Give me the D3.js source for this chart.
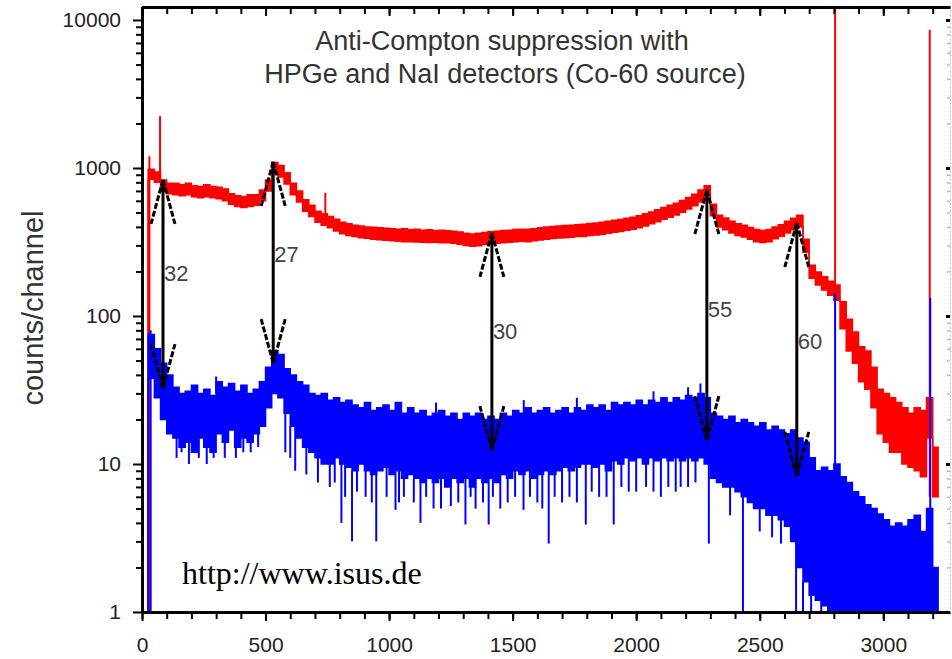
<!DOCTYPE html>
<html><head><meta charset="utf-8">
<script src="https://cdn.jsdelivr.net/npm/d3@7"></script>
<style>
html,body{margin:0;padding:0;background:#fff;}
svg{display:block;}
</style></head><body>
<svg id="chart" width="952" height="659"></svg>
<script>
// ---------- data ----------
const binWidth = 25; // channels per bin; bin i starts at channel i*25
const redHi = [1,980,940,830,790,790,770,790,760,750,770,750,740,720,670,650,640,660,660,710,830,1090,1040,930,790,700,610,560,510,490,470,450,430,420,410,405,400,398,395,392,388,385,388,382,385,380,382,378,380,376,374,370,362,358,362,366,372,374,378,380,384,385,386,388,395,400,402,405,408,410,414,416,422,425,430,436,444,448,458,465,476,490,505,522,540,560,578,602,632,665,710,760,570,480,460,436,420,410,396,384,378,384,400,414,436,458,480,330,220,198,184,172,162,125,95,78,62,58,45,32,30,28,26,24,22,24,23,28,13];
const redLo = [1,840,800,700,670,660,650,660,640,630,640,630,620,600,570,550,540,550,560,600,700,920,870,780,660,590,510,470,430,410,395,375,360,350,345,338,335,330,328,325,322,320,318,318,316,315,314,315,312,312,310,305,300,296,298,304,308,310,312,315,318,320,318,322,326,330,334,336,338,340,344,345,350,352,356,362,368,372,380,386,395,406,420,434,450,465,482,502,528,556,590,640,475,400,382,364,350,342,330,318,314,318,332,346,364,382,400,270,180,162,150,138,128,82,58,48,36,32,24,16,14,12,12,10,9.5,9,8.2,15,6];
const blueHi = [1,75,60,48,40,33,30,31,34,30,32,29,36,33,35,31,34,30,32,36,45,58,55,44,40,36,34,30,29,30,27,28,26,27,25,24,26,23,24,25,23,26,22,24,22,23,21,22,23,21,22,20,22,21,22,20,21,20,22,21,23,22,24,22,23,24,22,23,24,22,24,23,25,24,25,23,26,25,26,25,27,25,27,26,28,26,28,27,29,28,30,28,22,21,20,21,19,20,19,18,19,17,18,17,16,17,15,14,11,9,9.5,9,10,8.2,7.5,6.5,6,5.3,5,4.6,4.2,3.8,4,3.8,4.2,4.5,3.5,5,2];
const blueLo = [1,38,28,20,16,15,13,14,12,15,13,12,16,14,17,13,15,14,16,18,24,30,28,22,18,15,13,12,11,10,10,11,10,9.5,9,10,9,8.5,9,9.5,8.5,9,8,8.5,8,7.5,8,7.5,8,7,8,7.5,8,7,8,7.5,8,7.5,8.5,8,9,8.5,9,8,8.5,9,8.5,9,9.5,9,9.5,10,10,9.5,10,9,10.5,10,11,10.5,11,10,11,10.5,11,10.5,11,10.5,11,10.5,11,10,8,7.5,7,7,6.5,6,5.5,5,5,4.5,4.5,4.2,3.8,3,2,1.6,1.3,1.2,1.1,1,1,1,1,1,1,1,1,1,1,1,1,1,1,1,1,1,1];
// narrow single-channel lines: [channel, from, to]
const redSpikes = [[30,1,1200],[73,800,2240],[742,440,680],[2805,128,20000],[3188,6,8600]];
const blueSpikes = [[35,1,80],[300,30,39],[1190,20,26],[1545,20,27],[1760,20,28],[2070,22,31],[2210,25,33],[2260,25,35],[2805,1,143],[3190,1,133]];
// downward blue noise dips: [channel, value]
const blueDips = [[140,11],[160,12],[190,10],[230,11],[262,10],[290,11],[335,11],[380,11],[410,12],[440,12],[470,13],[580,12],[600,11],[620,9],[665,8.5],[712,7.5],[760,7],[780,7.5],[807,4],[822,6],[850,3],[870,6.5],[905,6],[930,5.5],[948,3],[990,6],[1026,4.9],[1040,5.5],[1060,6],[1100,5.5],[1127,4],[1150,6],[1180,5],[1210,5],[1250,5.2],[1280,5.5],[1309,3.9],[1330,6],[1350,5],[1380,5.5],[1403,3.9],[1420,6],[1450,5],[1480,5.5],[1510,6],[1544,4.9],[1570,6],[1600,5.5],[1620,5],[1646,2.9],[1670,6],[1700,5.5],[1730,6],[1760,5.5],[1796,3.9],[1820,6.5],[1850,6],[1880,6],[1909,3.9],[1940,7],[1970,6.5],[2000,6.5],[2040,7],[2070,6.5],[2100,6],[2130,7],[2160,6.5],[2180,7],[2210,7],[2240,7.5],[2294,2.9],[2380,4.5],[2432,1],[2500,3.5],[2550,3.2],[2586,2.9],[2647,1],[2675,1],[2708,1],[2749,1],[2789,1]];
// double arrows: channel, top value, bottom value, label, label value
const arrowCh = [85, 531, 1416, 2286, 2650];
const arrowTop = [830, 1100, 364, 710, 425];
const arrowBottom = [32.6, 48, 12.4, 14.5, 8.3];
const arrowLabels = ["32", "27", "30", "55", "60"];
const arrowLabelAt = [195, 262, 79, 111, 68];
const xMajorTicks = [0, 500, 1000, 1500, 2000, 2500, 3000];
const yMajorTicks = [1, 10, 100, 1000, 10000];
const titleLines = ["Anti-Compton suppression with", "HPGe and NaI detectors (Co-60 source)"];
const yTitle = "counts/channel";
const urlText = "http://www.isus.de";
const xMax = 3270, yTop = 12240;

// ---------- layout ----------
const SANS = "'Liberation Sans',Arial,sans-serif";
const svg = d3.select("#chart");
const L = 142, R = 950, T = 7, B = 612;
const x = d3.scaleLinear().domain([0, xMax]).range([L, R]);
const y = d3.scaleLog().domain([1, yTop]).range([B, T]);

svg.append("defs").append("clipPath").attr("id","clip")
  .append("rect").attr("x",L).attr("y",T).attr("width",R-L).attr("height",B-T);
const plot = svg.append("g").attr("clip-path","url(#clip)");

function binData(hi, lo){
  const d = hi.map((h,i)=>({ch:i*binWidth, hi:h, lo:lo[i]}));
  const last = d[d.length-1];
  d.push({ch:last.ch+binWidth, hi:last.hi, lo:last.lo});
  return d;
}
const red = binData(redHi, redLo), blue = binData(blueHi, blueLo);
const area = d3.area().curve(d3.curveStepAfter).x(d=>x(d.ch)).y0(d=>y(d.lo)).y1(d=>y(d.hi));
const hiLine = d3.line().curve(d3.curveStepAfter).x(d=>x(d.ch)).y(d=>y(d.hi));
const loLine = d3.line().curve(d3.curveStepAfter).x(d=>x(d.ch)).y(d=>y(d.lo));

function drawSeries(data, color, spikes){
  plot.append("path").datum(data).attr("d",area).attr("fill",color).attr("stroke","none");
  plot.append("path").datum(data).attr("d",hiLine).attr("fill","none").attr("stroke",color).attr("stroke-width",1.5);
  plot.append("path").datum(data).attr("d",loLine).attr("fill","none").attr("stroke",color).attr("stroke-width",1.5);
  plot.selectAll(null).data(spikes).enter().append("line")
    .attr("x1",d=>x(d[0])).attr("x2",d=>x(d[0]))
    .attr("y1",d=>y(d[1])).attr("y2",d=>y(d[2]))
    .attr("stroke",color).attr("stroke-width",2);
}
drawSeries(red, "#ff0000", redSpikes);
drawSeries(blue, "#0000ff", blueSpikes);
plot.selectAll(null).data(blueDips).enter().append("line")
  .attr("x1",d=>x(d[0])).attr("x2",d=>x(d[0]))
  .attr("y1",d=>y(blueLo[Math.floor(d[0]/binWidth)]))
  .attr("y2",d=>y(d[1]))
  .attr("stroke","#0000ff").attr("stroke-width",2);

// ---------- arrows ----------
const ag = svg.append("g");
arrowCh.forEach((c,i)=>{
  const xp = x(c), yt = y(arrowTop[i]), yb = y(arrowBottom[i]);
  ag.append("line").attr("x1",xp).attr("x2",xp).attr("y1",yt).attr("y2",yb)
    .attr("stroke","#000").attr("stroke-width",3);
  [[yt,1],[yb,-1]].forEach(([ty,dir])=>{
    [-12,12].forEach(dx=>{
      ag.append("line").attr("x1",xp).attr("y1",ty).attr("x2",xp+dx).attr("y2",ty+dir*44)
        .attr("stroke","#000").attr("stroke-width",3).attr("stroke-dasharray","6,2");
    });
  });
  ag.append("text").attr("x",xp+1).attr("y",y(arrowLabelAt[i])).attr("dy","0.36em")
    .style("font-family",SANS).attr("font-size",22).attr("fill","#444").text(arrowLabels[i]);
});

// ---------- axes ----------
const xMinor = d3.range(0, xMax, 100);
const yMinor = [];
for (let e=0;e<4;e++) for (let k=2;k<10;k++) yMinor.push(k*Math.pow(10,e));

function styleAxis(g, w){
  g.select(".domain").attr("stroke","#000").attr("stroke-width",w);
  g.selectAll(".tick line").attr("stroke","#000").attr("stroke-width",2);
  g.selectAll("text").attr("font-size",21).attr("fill","#222").style("font-family",SANS);
}
// bottom
svg.append("g").attr("transform",`translate(0,${B})`)
  .call(d3.axisBottom(x).tickValues(xMinor).tickSizeInner(7).tickSizeOuter(0).tickFormat(""))
  .call(g=>styleAxis(g,3));
svg.append("g").attr("transform",`translate(0,${B})`)
  .call(d3.axisBottom(x).tickValues(xMajorTicks).tickSizeInner(9).tickSizeOuter(0).tickPadding(16).tickFormat(d3.format("d")))
  .call(g=>styleAxis(g,3));
// top
svg.append("g").attr("transform",`translate(0,${T})`)
  .call(d3.axisTop(x).tickValues(xMinor).tickSizeInner(-7).tickSizeOuter(0).tickFormat(""))
  .call(g=>styleAxis(g,3));
svg.append("g").attr("transform",`translate(0,${T})`)
  .call(d3.axisTop(x).tickValues(xMajorTicks).tickSizeInner(-9).tickSizeOuter(0).tickFormat(""))
  .call(g=>styleAxis(g,3));
// left
svg.append("g").attr("transform",`translate(${L},0)`)
  .call(d3.axisLeft(y).tickValues(yMinor).tickSizeInner(6).tickSizeOuter(0).tickFormat(""))
  .call(g=>styleAxis(g,3));
svg.append("g").attr("transform",`translate(${L},0)`)
  .call(d3.axisLeft(y).tickValues(yMajorTicks).tickSizeInner(9).tickSizeOuter(0).tickPadding(12).tickFormat(d3.format("d")))
  .call(g=>styleAxis(g,3));
// right (faint)
const rg = svg.append("g").attr("transform",`translate(${R},0)`)
  .call(d3.axisRight(y).tickValues(yMinor).tickSizeInner(-3).tickSizeOuter(0).tickFormat(""));
rg.select(".domain").attr("stroke","#bbb").attr("stroke-width",1).attr("stroke-dasharray","2,2");
rg.selectAll(".tick line").attr("stroke","#bbb").attr("stroke-width",1.5);
const rg2 = svg.append("g").attr("transform",`translate(${R},0)`)
  .call(d3.axisRight(y).tickValues(yMajorTicks).tickSizeInner(-4).tickSizeOuter(0).tickFormat(""));
rg2.select(".domain").remove();
rg2.selectAll(".tick line").attr("stroke","#000").attr("stroke-width",3);

// ---------- texts ----------
svg.append("text").attr("x",502).attr("y",50).attr("text-anchor","middle")
  .style("font-family",SANS).attr("font-size",27).attr("fill","#333").text(titleLines[0]);
svg.append("text").attr("x",505).attr("y",83).attr("text-anchor","middle")
  .style("font-family",SANS).attr("font-size",27).attr("fill","#333").text(titleLines[1]);
svg.append("text").attr("transform","translate(43,308) rotate(-90)").attr("text-anchor","middle")
  .style("font-family",SANS).attr("font-size",29).attr("fill","#333").text(yTitle);
svg.append("text").attr("x",182).attr("y",584)
  .style("font-family","'Liberation Serif','Times New Roman',serif")
  .attr("font-size",32).attr("fill","#000").text(urlText);
</script>
</body></html>
